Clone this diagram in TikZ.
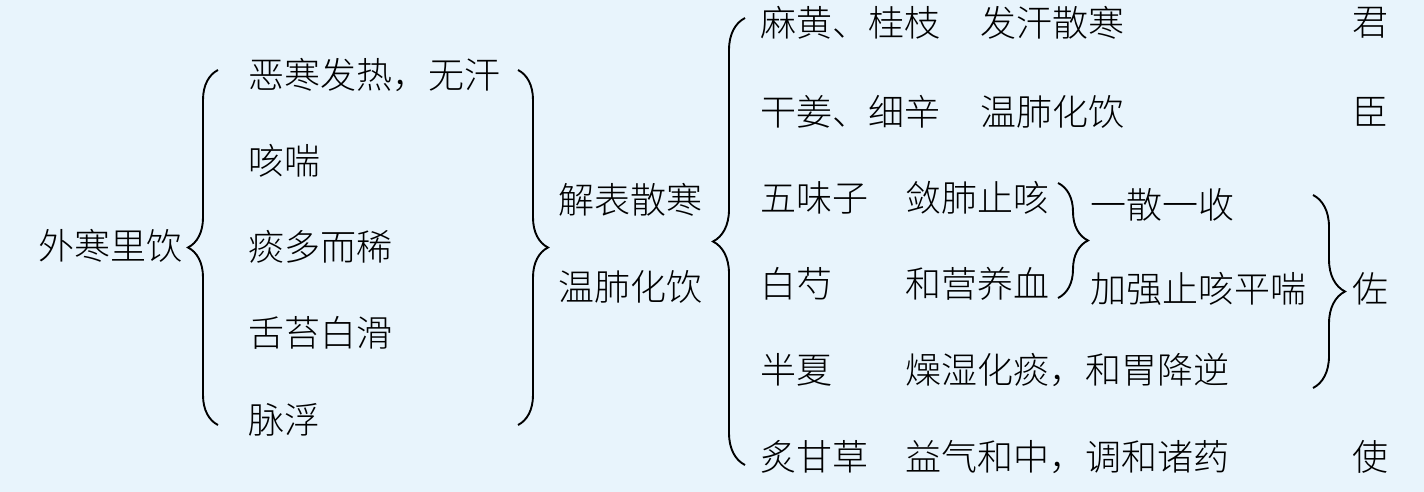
\documentclass[tikz,border=0pt]{standalone}
\usepackage{fontspec}
\newfontfamily\cjk{Noto Sans CJK SC Light}
\usetikzlibrary{decorations.pathreplacing}
\definecolor{bgblue}{RGB}{232,244,252}
\begin{document}
\begin{tikzpicture}[x=1pt,y=-1pt,
  txt/.style={anchor=west,inner sep=0pt,font=\cjk\fontsize{36}{36}\selectfont},
  brc/.style={draw=black,line width=1.9pt,decorate,decoration={brace,amplitude=#1}}]
\fill[bgblue] (0,0) rectangle (1424,492);
\useasboundingbox (0,0) rectangle (1424,492);
% left part
\node[txt] (wh) at (38,246) {外寒里饮};
\node[txt] (s1) at (248,75) {恶寒发热，无汗};
\node[txt] (s2) at (248,161) {咳喘};
\node[txt] (s3) at (248,247) {痰多而稀};
\node[txt] (s4) at (248,333) {舌苔白滑};
\node[txt] (s5) at (248,420) {脉浮};
\draw[brc=30] (218,425) -- (218,70);
\draw[brc=30] (518,70) -- (518,425);
% middle
\node[txt] (m1) at (558,200) {解表散寒};
\node[txt] (m2) at (558,287) {温肺化饮};
\draw[brc=32] (745,465) -- (745,18);
% right
\node[txt] (h1) at (760,23) {麻黄、桂枝};
\node[txt] (h2) at (760,112) {干姜、细辛};
\node[txt] (h3) at (760,198) {五味子};
\node[txt] (h4) at (760,284) {白芍};
\node[txt] (h5) at (760,370) {半夏};
\node[txt] (h6) at (760,457) {炙甘草};
\node[txt] (f1) at (980,23) {发汗散寒};
\node[txt] (f2) at (980,112) {温肺化饮};
\node[txt] (f3) at (905,198) {敛肺止咳};
\node[txt] (f4) at (905,284) {和营养血};
\node[txt] (f5) at (905,370) {燥湿化痰，和胃降逆};
\node[txt] (f6) at (905,457) {益气和中，调和诸药};
\draw[brc=30] (1058,183) -- (1058,298);
\node[txt] (c1) at (1090,205) {一散一收};
\node[txt] (c2) at (1090,289) {加强止咳平喘};
\draw[brc=32] (1313,195) -- (1313,388);
\node[txt] (r1) at (1352,23) {君};
\node[txt] (r2) at (1352,112) {臣};
\node[txt] (r3) at (1352,289) {佐};
\node[txt] (r4) at (1352,457) {使};
\end{tikzpicture}
\end{document}
